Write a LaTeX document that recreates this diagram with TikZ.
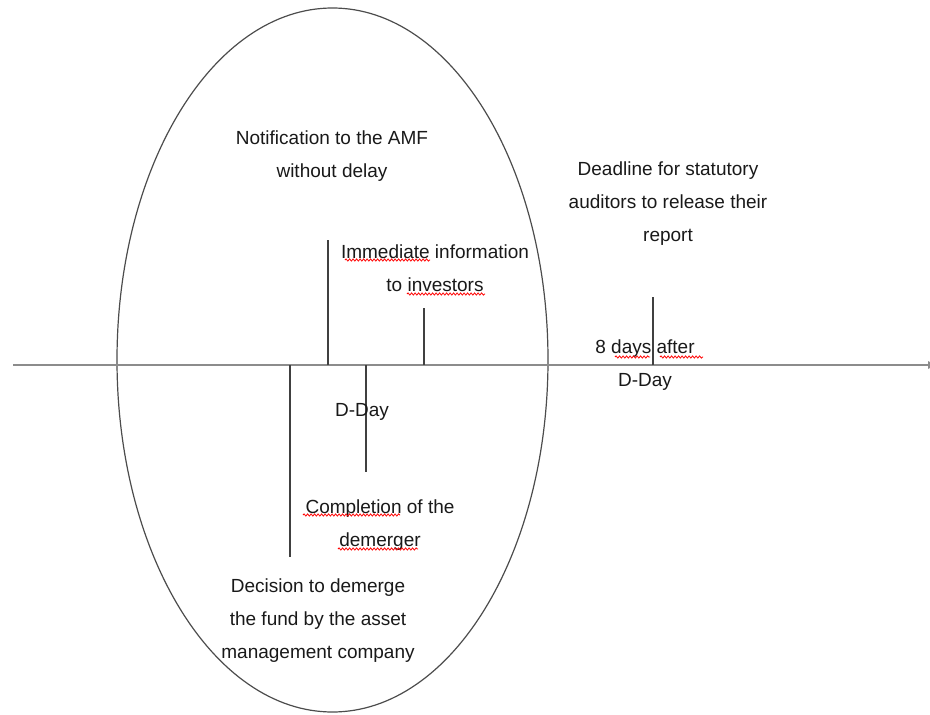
\documentclass[tikz,border=0pt]{standalone}
\usepackage{fontspec}
\setmainfont{Liberation Sans}
\usepackage{tikz}
\usetikzlibrary{%
        calc,
        math,
        decorations.pathmorphing, % spell-check squiggles
        arrows.meta,
    }

\begin{document}
\begin{tikzpicture}[x=1pt, y=-1pt, line width=1.5pt]
    \tikzmath{%
        % axis
        \axisy=365;
        \axisleft=13;
        \axisright=940;
        % ellipse
        \cx=332.5;
        \cy=360;
        \rx=215.5;
        \ry=352;
    };

    \tikzset{%
        caption/.style={align=center, font=\fontsize{19}{33}\selectfont, text=black!90},
        tick/.style={line width=1.6pt, color=black!75},
        squiggle/.style={red, line width=0.8pt, decorate, decoration={snake, amplitude=1.1pt, segment length=3.5pt}},
    }

    \useasboundingbox (0, 0) rectangle (930, 715);

    % ellipse
    \draw [color=black!70, line width=1.2pt] (\cx, \cy) ellipse [x radius=\rx, y radius=\ry];

    % time axis
    \coordinate (start) at (\axisleft, \axisy);
    \coordinate (end) at (\axisright, \axisy);
    \draw [color=black!45, line width=1.8pt, -{Latex[length=12pt, width=8pt]}] (start) -- (end);

    % ticks
    \coordinate (notify) at (328, \axisy);
    \coordinate (notifytop) at (328, 240);
    \coordinate (inform) at (424, \axisy);
    \coordinate (informtop) at (424, 308);
    \coordinate (decide) at (290, \axisy);
    \coordinate (decidebot) at (290, 557);
    \coordinate (complete) at (366, \axisy);
    \coordinate (completebot) at (366, 472);
    \coordinate (deadline) at (653, \axisy);
    \coordinate (deadlinetop) at (653, 297);
    \draw [tick] (notify) -- (notifytop);
    \draw [tick] (inform) -- (informtop);
    \draw [tick] (decide) -- (decidebot);
    \draw [tick] (complete) -- (completebot);
    \draw [tick] (deadline) -- (deadlinetop);

    % captions
    \node (notifytext) [caption] at (332, 156) {Notification to the AMF\\without delay};
    \node (informtext) [caption] at (435, 268) {Immediate information\\to investors};
    \node (deadlinetext) [caption] at (668, 204) {Deadline for statutory\\auditors to release their\\report};
    \node (eightdays) [caption] at (645, 365) {8 days after\\D-Day};
    \node (dday) [caption] at (362, 412) {D-Day};
    \node (completetext) [caption] at (380, 525) {Completion of the\\demerger};
    \node (decidetext) [caption] at (318, 621) {Decision to demerge\\the fund by the asset\\management company};

    % spell-check marks
    \draw [squiggle] (345, 260) -- (430, 260);
    \draw [squiggle] (407, 294) -- (485, 294);
    \draw [squiggle] (615, 357) -- (650, 357);
    \draw [squiggle] (660, 357) -- (703, 357);
    \draw [squiggle] (303, 515) -- (400, 515);
    \draw [squiggle] (338, 549) -- (418, 549);
\end{tikzpicture}
\end{document}
